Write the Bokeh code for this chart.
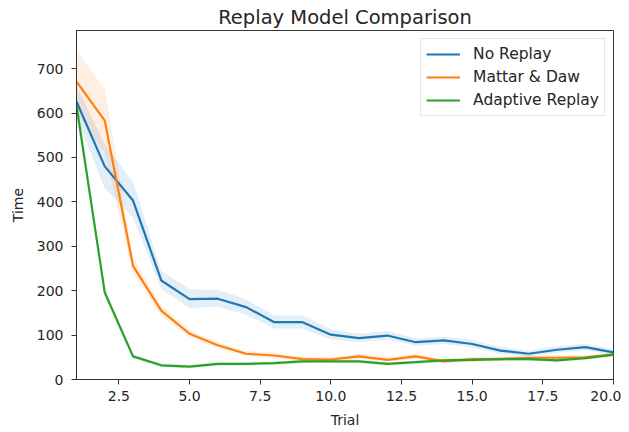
from bokeh.plotting import figure
from bokeh.models import ColumnDataSource, FixedTicker, NumeralTickFormatter, Range1d, Legend, LegendItem
from bokeh.embed import file_html
from bokeh.resources import INLINE

trials = list(range(1, 21))

no_replay = [626, 480, 403, 223, 181, 182, 163, 129, 129, 101, 93, 99, 84, 88, 80, 65, 58, 67, 73, 61]
no_replay_lo = [590, 430, 365, 203, 161, 164, 146, 115, 115, 90, 84, 90, 76, 80, 72, 58, 52, 60, 66, 55]
no_replay_hi = [662, 530, 445, 245, 203, 202, 181, 144, 144, 113, 103, 109, 93, 97, 89, 73, 65, 75, 81, 68]

mattar_daw = [671, 583, 256, 155, 103, 77, 58, 54, 46, 45, 52, 44, 52, 41, 46, 46, 49, 49, 50, 56]
mattar_daw_lo = [600, 510, 238, 143, 95, 70, 52, 48, 41, 40, 46, 39, 46, 36, 41, 41, 44, 44, 45, 51]
mattar_daw_hi = [741, 654, 274, 167, 111, 84, 64, 60, 51, 50, 58, 49, 58, 46, 51, 51, 54, 54, 55, 61]

adaptive = [617, 196, 52, 32, 29, 35, 35, 37, 41, 41, 41, 35, 39, 43, 44, 46, 46, 43, 48, 56]
adaptive_lo = [592, 186, 47, 28, 25, 31, 31, 33, 37, 37, 37, 31, 35, 39, 40, 42, 42, 39, 44, 52]
adaptive_hi = [642, 206, 57, 36, 33, 39, 39, 41, 45, 45, 45, 39, 43, 47, 48, 50, 50, 47, 52, 60]

series_names = ["No Replay", "Mattar & Daw", "Adaptive Replay"]
colors = ["#1f77b4", "#ff7f0e", "#2ca02c"]
x_ticks = [2.5, 5.0, 7.5, 10.0, 12.5, 15.0, 17.5, 20.0]
y_ticks = [0, 100, 200, 300, 400, 500, 600, 700]

FONT = "DejaVu Sans"
TXT = "#262626"

p = figure(width=621, height=430, output_backend="svg", toolbar_location=None,
           x_range=Range1d(1, 20), y_range=Range1d(0, 786),
           min_border_left=76, min_border_right=8, min_border_top=30, min_border_bottom=51,
           title="Replay Model Comparison")
p.title.text_font = FONT
p.title.text_font_size = "19.5px"
p.title.text_font_style = "normal"
p.title.text_color = TXT
p.title.align = "center"
p.title.standoff = 4
p.title.offset = 0

p.xgrid.visible = False
p.ygrid.visible = False
p.background_fill_color = "white"
p.border_fill_color = "white"
p.outline_line_color = "#333333"
p.outline_line_width = 1

for ax in (p.xaxis[0], p.yaxis[0]):
    ax.major_label_text_font = FONT
    ax.major_label_text_font_size = "14px"
    ax.major_label_text_color = TXT
    ax.axis_label_text_font = FONT
    ax.axis_label_text_font_size = "14px"
    ax.axis_label_text_font_style = "normal"
    ax.axis_label_text_color = TXT
    ax.major_tick_in = 0
    ax.major_tick_out = 5
    ax.minor_tick_line_color = None
    ax.axis_line_color = "#333333"
    ax.major_tick_line_color = "#333333"

p.xaxis.ticker = FixedTicker(ticks=x_ticks)
p.xaxis.formatter = NumeralTickFormatter(format="0.0")
p.xaxis.axis_label = "Trial"
p.xaxis.major_label_standoff = 6
p.xaxis.axis_label_standoff = 8
p.yaxis.ticker = FixedTicker(ticks=y_ticks)
p.yaxis.axis_label = "Time"
p.yaxis.major_label_standoff = 8
p.yaxis.axis_label_standoff = 8

data = [
    (no_replay, no_replay_lo, no_replay_hi),
    (mattar_daw, mattar_daw_lo, mattar_daw_hi),
    (adaptive, adaptive_lo, adaptive_hi),
]

for (mean, lo, hi), c in zip(data, colors):
    src = ColumnDataSource(dict(x=trials, lo=lo, hi=hi))
    p.varea(x="x", y1="lo", y2="hi", source=src, fill_color=c, fill_alpha=0.12)

items = []
for (mean, lo, hi), name, c in zip(data, series_names, colors):
    src = ColumnDataSource(dict(x=trials, y=mean))
    r = p.line(x="x", y="y", source=src, line_color=c, line_width=2.2)
    items.append(LegendItem(label=name, renderers=[r]))

legend = Legend(items=items, location="top_right")
legend.label_text_font = FONT
legend.label_text_font_size = "15.5px"
legend.label_text_color = TXT
legend.glyph_width = 34
legend.glyph_height = 20
legend.label_height = 20
legend.spacing = 3
legend.label_standoff = 13
legend.padding = 5
legend.margin = 8
legend.border_line_color = "#cccccc"
legend.border_line_width = 1
legend.background_fill_alpha = 0.85
p.add_layout(legend)

open("out.html", "w").write(file_html(p, INLINE))
